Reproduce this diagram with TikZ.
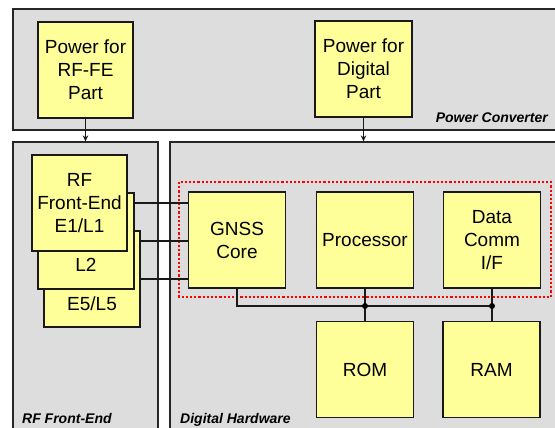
\documentclass[tikz,border=0pt]{standalone}
\usepackage{fontspec}
\setmainfont{Liberation Sans}
\usetikzlibrary{arrows.meta}
\definecolor{blockyellow}{HTML}{FFFF99}
\definecolor{regiongray}{HTML}{DDDDDD}
\begin{document}
\begin{tikzpicture}[x=1pt, y=-1pt,
    region/.style={draw=black!85, fill=regiongray, line width=1.2pt, inner sep=0pt},
    block/.style={draw=black!90, fill=blockyellow, line width=1.2pt, inner sep=0pt,
        minimum width=97pt, minimum height=96pt, align=center,
        font=\fontsize{19}{23}\selectfont},
    tag/.style={font=\fontsize{14}{16}\selectfont\bfseries\itshape, inner sep=0pt},
    wire/.style={draw=black!90, line width=1.2pt}]

    \useasboundingbox (0,0) rectangle (555,428);

    % The three regions (they run past the right and bottom edges)
    \node[region, minimum width=552pt, minimum height=121pt] (pwrconv) at (289, 69.5) {};
    \node[region, minimum width=145pt, minimum height=293pt] (rfbox) at (85.5, 288.5) {};
    \node[region, minimum width=395pt, minimum height=293pt] (digbox) at (367.5, 288.5) {};

    \node[tag, anchor=base east] (pwrtag) at (548, 123) {Power Converter};
    \node[tag, anchor=base west] (rftag) at (22, 423) {RF Front-End};
    \node[tag, anchor=base west] (digtag) at (180, 423) {Digital Hardware};

    % Power blocks
    \node[block, minimum width=95pt] (pwrrf) at (85.5, 70) {Power for\\RF-FE\\Part};
    \node[block] (pwrdig) at (363.5, 69) {Power for\\Digital\\Part};

    \draw[wire, -{Stealth[length=6pt, width=5.5pt]}] (pwrrf.south) -- (pwrrf.south |- rfbox.north);
    \draw[wire, -{Stealth[length=6pt, width=5.5pt]}] (pwrdig.south) -- (pwrdig.south |- digbox.north);

    % Digital blocks
    \node[block] (gnss) at (237, 240) {GNSS\\Core};
    \node[block] (proc) at (365, 240) {Processor};
    \node[block] (dcomm) at (492, 240) {Data\\Comm\\I/F};
    \node[block] (rom) at (365, 369.5) {ROM};
    \node[block] (ram) at (491.5, 369.5) {RAM};

    % Dotted frame round the core blocks
    \draw[red, line width=2.2pt, dash pattern=on 2.2pt off 2pt] (179, 182) rectangle (551, 297);

    % RF front-ends: lines first so the boxes cover them
    \node[block, draw=none, fill=none, minimum width=95pt] (rf1) at (79.5, 203) {};
    \node[block, draw=none, fill=none, minimum width=96pt] (rf2) at (86, 241) {};
    \node[block, draw=none, fill=none, minimum width=96pt] (rf5) at (92, 279) {};
    \draw[wire] (rf1.east) -- (rf1.east -| gnss.west);
    \draw[wire] (rf2.east) -- (rf2.east -| gnss.west);
    \draw[wire] (rf5.east) -- (rf5.east -| gnss.west);

    \node[block, minimum width=96pt] (e5) at (rf5) {};
    \node at ([yshift=24]e5.south) {\fontsize{19}{23}\selectfont E5/L5};
    \node[block, minimum width=96pt] (l2) at (rf2) {};
    \node at ([yshift=25]l2.south) {\fontsize{19}{23}\selectfont L2};
    \node[block, minimum width=95pt] (e1) at (rf1) {RF\\Front-End\\E1/L1};

    % Bus
    \coordinate (bus) at (0, 306);
    \draw[wire] (gnss.south) |- (dcomm.south |- bus);
    \draw[wire] (proc.south) -- (rom.north);
    \draw[wire] (dcomm.south) -- (dcomm.south |- ram.north);
    \fill (proc.south |- bus) circle (3pt);
    \fill (dcomm.south |- bus) circle (3pt);
\end{tikzpicture}
\end{document}
